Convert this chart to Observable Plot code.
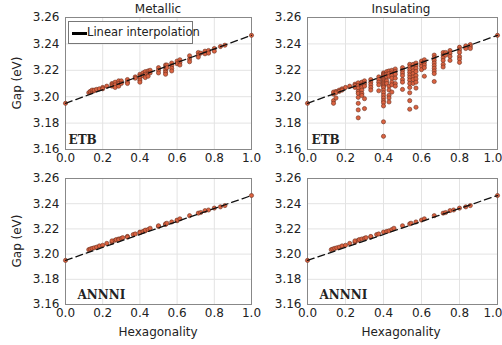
<!DOCTYPE html>
<html>
<head>
<meta charset="utf-8">
<script src="https://cdn.jsdelivr.net/npm/d3@7"></script>
<script src="https://cdn.jsdelivr.net/npm/@observablehq/plot@0.6"></script>
<style>
  html, body { margin: 0; padding: 0; background: #fff; }
  #chart { position: relative; width: 502px; height: 345px; font-family: "DejaVu Sans", sans-serif; color: #222; }
  #chart svg { position: absolute; overflow: visible; }
  .lbl { position: absolute; font-size: 12px; white-space: nowrap; }
</style>
</head>
<body>
<div id="chart"></div>
<script>
// ---- data: hexagonality and gap (eV) clusters ----
const columnTitles = ["Metallic", "Insulating"];
const rowLabels = ["ETB", "ANNNI"];
const xTicks = [0, 0.2, 0.4, 0.6, 0.8, 1.0];
const yTicks = [3.16, 3.18, 3.20, 3.22, 3.24, 3.26];
const fitLine = [[0, 3.195], [1, 3.2465]];

const etbMetallic = [
  [0, [3.195]], [0.125, [3.203]], [0.133, [3.2035, 3.204]], [0.143, [3.204, 3.205]],
  [0.154, [3.2045, 3.205]], [0.167, [3.2055]], [0.182, [3.206]], [0.2, [3.207, 3.206]],
  [0.222, [3.208]], [0.25, [3.210, 3.209, 3.208]], [0.267, [3.211, 3.209, 3.207]],
  [0.286, [3.212, 3.210, 3.208]], [0.3, [3.212, 3.210]], [0.333, [3.213, 3.211, 3.210]],
  [0.375, [3.215, 3.214]], [0.4, [3.217, 3.2155, 3.214, 3.2125, 3.211]], [0.417, [3.218, 3.216]],
  [0.429, [3.219, 3.217, 3.2145]], [0.444, [3.2195, 3.2175, 3.2155]], [0.455, [3.220, 3.218]],
  [0.5, [3.222, 3.220, 3.218]], [0.538, [3.224, 3.222, 3.220, 3.2185, 3.217]], [0.545, [3.224, 3.222]],
  [0.571, [3.2255, 3.2235, 3.2215, 3.2195]], [0.6, [3.227, 3.225]], [0.615, [3.228, 3.226, 3.224]],
  [0.667, [3.231, 3.2285, 3.2265]], [0.714, [3.2335, 3.2315, 3.230]], [0.727, [3.233]],
  [0.75, [3.2345, 3.2325]], [0.769, [3.235, 3.233]], [0.8, [3.2365, 3.2345]], [0.833, [3.238]],
  [0.857, [3.239]], [1, [3.2465]]
];

const etbInsulating = [
  [0, [3.195]], [0.137, [3.197, 3.195, 3.202, 3.2035]], [0.15, [3.204, 3.203, 3.199]],
  [0.167, [3.205, 3.204]], [0.182, [3.206, 3.205]], [0.2, [3.207]], [0.222, [3.208]],
  [0.25, [3.2095, 3.2085, 3.207]], [0.267, [3.2105, 3.2085, 3.2065, 3.204, 3.2025, 3.1995, 3.195, 3.190, 3.184]],
  [0.286, [3.211, 3.209, 3.207, 3.205, 3.2025, 3.201]], [0.3, [3.212, 3.210, 3.208, 3.1985, 3.191]],
  [0.333, [3.213, 3.211, 3.209, 3.207, 3.205]], [0.375, [3.215, 3.213, 3.211, 3.209, 3.2045]],
  [0.4, [3.218, 3.217, 3.216, 3.215, 3.214, 3.213, 3.212, 3.211, 3.210, 3.209, 3.208, 3.207, 3.205, 3.203, 3.201, 3.199, 3.197, 3.1955, 3.193, 3.181, 3.170]],
  [0.417, [3.219, 3.217, 3.215, 3.212, 3.210]], [0.429, [3.2195, 3.2175, 3.2155, 3.208, 3.205, 3.201, 3.199, 3.196]],
  [0.444, [3.220, 3.218, 3.216, 3.214, 3.211, 3.209, 3.2035]], [0.462, [3.221, 3.219, 3.217, 3.214, 3.210, 3.208]],
  [0.5, [3.222, 3.220, 3.218, 3.216, 3.213, 3.211, 3.2055]],
  [0.538, [3.2245, 3.2225, 3.2205, 3.2185, 3.2165, 3.2145, 3.2125, 3.210, 3.207, 3.203, 3.197, 3.1905]],
  [0.556, [3.2245, 3.2215, 3.2195, 3.2175, 3.215, 3.213, 3.210]],
  [0.571, [3.2255, 3.2235, 3.2215, 3.219, 3.216, 3.2135, 3.211, 3.2065, 3.192]],
  [0.6, [3.227, 3.225, 3.223, 3.2205]], [0.615, [3.228, 3.226, 3.224, 3.222, 3.2155]],
  [0.667, [3.2315, 3.2295, 3.2275, 3.2255, 3.2235, 3.2215, 3.2195, 3.2175, 3.2115]],
  [0.714, [3.2335, 3.2315, 3.2295, 3.2275, 3.2245, 3.2225]], [0.727, [3.2335, 3.2315]],
  [0.75, [3.235, 3.233, 3.2305, 3.2275]], [0.8, [3.2375, 3.2355, 3.2335, 3.2305, 3.2285, 3.226]],
  [0.833, [3.2385, 3.2365]], [0.857, [3.2395, 3.238, 3.2365]], [1, [3.2465]]
];

const annniMetallic = [
  [0, [3.195]], [0.125, [3.2035]], [0.133, [3.204]], [0.143, [3.2045]], [0.154, [3.205]],
  [0.167, [3.2055]], [0.182, [3.2065]], [0.2, [3.207]], [0.222, [3.2085]], [0.25, [3.2095, 3.2105]],
  [0.267, [3.211]], [0.273, [3.2115]], [0.286, [3.212, 3.2115]], [0.3, [3.2125]], [0.308, [3.213]],
  [0.333, [3.214, 3.2135]], [0.364, [3.2155]], [0.375, [3.216]], [0.4, [3.2175, 3.217]],
  [0.417, [3.218]], [0.429, [3.2185, 3.219]], [0.444, [3.2195]], [0.455, [3.2205]], [0.5, [3.222, 3.2225]],
  [0.538, [3.2235, 3.224]], [0.545, [3.2245]], [0.571, [3.2255]], [0.6, [3.2265, 3.227]],
  [0.615, [3.228]], [0.667, [3.2305]], [0.714, [3.2325]], [0.727, [3.233]], [0.75, [3.2345]],
  [0.769, [3.235]], [0.8, [3.2365]], [0.833, [3.2375]], [0.857, [3.2385]], [1, [3.2465]]
];

const annniInsulating = [
  [0, [3.195]], [0.125, [3.2035]], [0.133, [3.204]], [0.143, [3.2045]], [0.154, [3.205]],
  [0.167, [3.2055]], [0.182, [3.2065]], [0.2, [3.207]], [0.222, [3.2085]], [0.25, [3.2095, 3.2105]],
  [0.267, [3.211]], [0.273, [3.2115]], [0.286, [3.212]], [0.3, [3.2125]], [0.308, [3.213]],
  [0.333, [3.2135, 3.214]], [0.364, [3.2155]], [0.375, [3.216]], [0.4, [3.2175]],
  [0.417, [3.218]], [0.429, [3.2185]], [0.444, [3.2195]], [0.455, [3.2205]], [0.5, [3.2225]],
  [0.538, [3.224]], [0.545, [3.2245]], [0.571, [3.2255]], [0.6, [3.227]],
  [0.615, [3.228]], [0.667, [3.2305]], [0.714, [3.2325]], [0.727, [3.233]], [0.75, [3.2345]],
  [0.769, [3.235]], [0.8, [3.2365]], [0.833, [3.2375]], [0.857, [3.2385]], [1, [3.2465]]
];

// ---- drawing ----
const flat = groups => groups.flatMap(([h, gs]) => gs.map(g => ({hex: h, gap: g})));
const lineRows = fitLine.map(([h, g]) => ({hex: h, gap: g}));
const chart = document.getElementById("chart");
const fmtX = d3.format(".1f");

function panel(data, label, box) {
  const lastTick = xTicks[xTicks.length - 1];
  const xAxisMarks = box.endAnchorLast
    ? [Plot.axisX(xTicks.slice(0, -1), {tickFormat: fmtX, tickSize: 0, tickPadding: 4, label: null}),
       Plot.axisX([lastTick], {tickFormat: fmtX, tickSize: 0, tickPadding: 4, label: null, textAnchor: "end", dx: 5})]
    : [Plot.axisX(xTicks, {tickFormat: fmtX, tickSize: 0, tickPadding: 4, label: null})];
  const svg = Plot.plot({
    width: box.w, height: box.h,
    marginLeft: box.ml, marginRight: box.mr, marginTop: box.mt, marginBottom: box.mb,
    style: {fontFamily: "DejaVu Sans, sans-serif", fontSize: "12px", background: "transparent", color: "#222"},
    x: {domain: [0, 1], label: null},
    y: {domain: [3.16, 3.26], label: null},
    marks: [
      Plot.gridX(xTicks, {stroke: "#e3e3e3", strokeOpacity: 1}),
      Plot.gridY(yTicks, {stroke: "#e3e3e3", strokeOpacity: 1}),
      Plot.frame({stroke: "#888", strokeWidth: 1}),
      ...xAxisMarks,
      Plot.axisY(yTicks, {tickFormat: d3.format(".2f"), tickSize: 0, tickPadding: 6, label: null}),
      Plot.dot(flat(data), {x: "hex", y: "gap", r: 2.1, fill: "#da6240", stroke: "#6b3020", strokeWidth: 0.6}),
      Plot.line(lineRows, {x: "hex", y: "gap", stroke: "#111", strokeWidth: 1.3, strokeDasharray: "7,4"}),
      Plot.text([label], {frameAnchor: "bottom-left", dx: box.lx, dy: -6, text: d => d,
        fontFamily: "DejaVu Serif, serif", fontWeight: "bold", fontSize: 12, fill: "#222", textAnchor: "start"})
    ]
  });
  svg.style.left = box.left + "px";
  svg.style.top = box.top + "px";
  chart.appendChild(svg);
}

panel(etbMetallic, rowLabels[0], {left: 0, top: 0, w: 260, h: 165, ml: 65, mr: 9, mt: 17, mb: 16, lx: 3});
panel(etbInsulating, rowLabels[0], {left: 250, top: 0, w: 252, h: 165, ml: 57, mr: 5, mt: 17, mb: 16, lx: 4, endAnchorLast: true});
panel(annniMetallic, rowLabels[1], {left: 0, top: 165, w: 260, h: 180, ml: 65, mr: 9, mt: 13, mb: 41, lx: 12});
panel(annniInsulating, rowLabels[1], {left: 250, top: 165, w: 252, h: 180, ml: 57, mr: 5, mt: 13, mb: 41, lx: 12, endAnchorLast: true});

function addLabel(text, css) {
  const d = document.createElement("div");
  d.className = "lbl";
  d.textContent = text;
  Object.assign(d.style, css);
  chart.appendChild(d);
  return d;
}
addLabel(columnTitles[0], {left: "158px", top: "2px", transform: "translateX(-50%)"});
addLabel(columnTitles[1], {left: "401px", top: "2px", transform: "translateX(-50%)"});
addLabel("Hexagonality", {left: "158px", top: "325px", transform: "translateX(-50%)"});
addLabel("Hexagonality", {left: "401px", top: "325px", transform: "translateX(-50%)"});
addLabel("Gap (eV)", {left: "17px", top: "83px", transform: "translate(-50%,-50%) rotate(-90deg)"});
addLabel("Gap (eV)", {left: "17px", top: "241px", transform: "translate(-50%,-50%) rotate(-90deg)"});

// legend
const leg = document.createElement("div");
Object.assign(leg.style, {position: "absolute", left: "68px", top: "21px", width: "125px", height: "23px",
  border: "1px solid #777", background: "#fff", boxSizing: "border-box"});
const sw = document.createElement("div");
Object.assign(sw.style, {position: "absolute", left: "3px", top: "10px", width: "15px", height: "3px", background: "#000"});
leg.appendChild(sw);
const lt = document.createElement("div");
Object.assign(lt.style, {position: "absolute", left: "18px", top: "3px", fontSize: "11.5px", whiteSpace: "nowrap"});
lt.textContent = "Linear interpolation";
leg.appendChild(lt);
chart.appendChild(leg);
</script>
</body>
</html>
